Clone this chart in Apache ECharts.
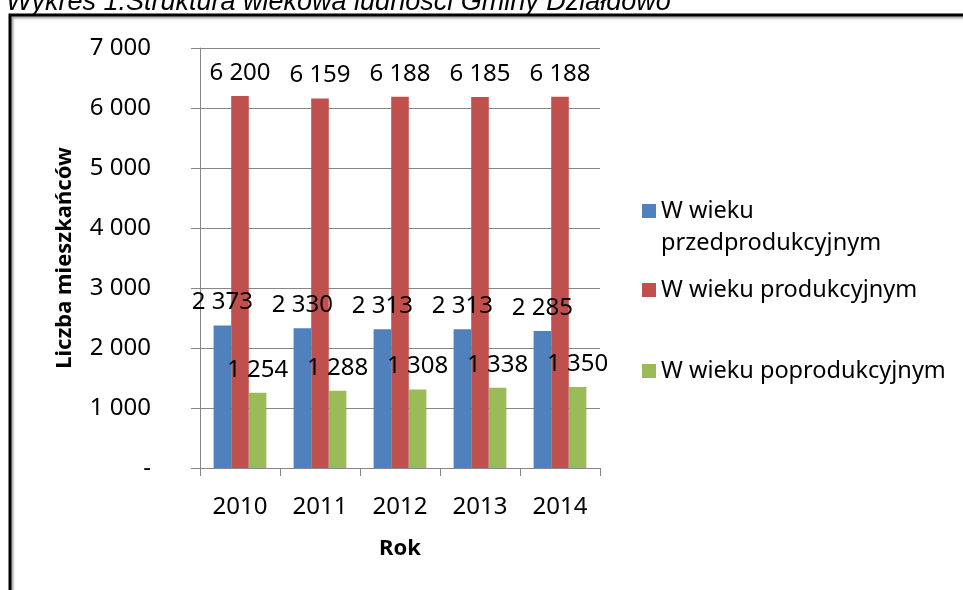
<!DOCTYPE html>
<html>
<head>
<meta charset="utf-8">
<script src="https://cdn.jsdelivr.net/npm/echarts@6/dist/echarts.min.js"></script>
<style>
  html, body { margin: 0; padding: 0; background: #fff; }
  #chart { width: 963px; height: 590px; }
</style>
</head>
<body>
<div id="chart"></div>
<script>
const years = ['2010', '2011', '2012', '2013', '2014']
const seriesNames = ['W wieku przedprodukcyjnym', 'W wieku produkcyjnym', 'W wieku poprodukcyjnym']
const przedprodukcyjny = [2373, 2330, 2313, 2313, 2285]
const produkcyjny = [6200, 6159, 6188, 6185, 6188]
const poprodukcyjny = [1254, 1288, 1308, 1338, 1350]
const colors = ['#4F81BD', '#C0504D', '#9BBB59']

const font = 'Noto Sans'

// 2373 -> "2 373", 0 -> "-"
const fmt = v => {
  if (v === 0) return '-'
  return String(v).replace(/\B(?=(\d{3})+(?!\d))/g, ' ')
}

const chart = echarts.init(document.getElementById('chart'))

const barLabel = {
  show: true,
  position: 'top',
  distance: 11,
  color: '#000',
  fontFamily: font,
  fontSize: 24,
  formatter: p => fmt(p.value)
}

const legendBase = {
  orient: 'vertical',
  left: 642,
  padding: 0,
  icon: 'rect',
  itemWidth: 14,
  itemHeight: 14,
  itemGap: 0,
  selectedMode: false,
  textStyle: { fontFamily: font, fontSize: 23.5, color: '#000', lineHeight: 32 }
}

const option = {
  animation: false,
  title: {
    text: 'Wykres 1.Struktura wiekowa ludności Gminy Działdowo',
    left: 6,
    top: -11,
    padding: 0,
    textStyle: {
      fontFamily: 'Liberation Sans',
      fontStyle: 'italic',
      fontWeight: 'normal',
      fontSize: 27,
      color: '#000'
    }
  },
  graphic: [{
    type: 'rect',
    shape: { x: 10, y: 15, width: 1200, height: 1000 },
    style: {
      fill: 'none',
      stroke: '#000',
      lineWidth: 3,
      shadowColor: 'rgba(0,0,0,0.35)',
      shadowOffsetX: 2,
      shadowOffsetY: 2,
      shadowBlur: 2
    }
  }],
  legend: [
    // empty first line keeps the marker level with "W wieku"
    Object.assign({}, legendBase, {
      top: 163,
      data: [seriesNames[0]],
      formatter: () => ' \nW wieku\nprzedprodukcyjnym'
    }),
    Object.assign({}, legendBase, { top: 274, data: [seriesNames[1]] }),
    Object.assign({}, legendBase, { top: 355, data: [seriesNames[2]] })
  ],
  grid: { left: 200, right: 363, top: 48, bottom: 122, containLabel: false },
  xAxis: {
    type: 'category',
    data: years,
    name: 'Rok',
    nameLocation: 'middle',
    nameGap: 70,
    nameTextStyle: { fontFamily: font, fontSize: 22, fontWeight: 'bold', color: '#000' },
    axisLine: { lineStyle: { color: '#868686', width: 1 } },
    axisTick: { show: true, length: 8, lineStyle: { color: '#868686' } },
    axisLabel: { color: '#000', fontFamily: font, fontSize: 24, margin: 27 }
  },
  yAxis: {
    type: 'value',
    min: 0,
    max: 7000,
    interval: 1000,
    name: 'Liczba mieszkańców',
    nameLocation: 'middle',
    nameGap: 124,
    nameRotate: 90,
    nameTextStyle: { fontFamily: font, fontSize: 22, fontWeight: 'bold', color: '#000' },
    axisLine: { show: true, lineStyle: { color: '#868686', width: 1 } },
    axisTick: { show: true, length: 9, lineStyle: { color: '#868686' } },
    axisLabel: { color: '#000', fontFamily: font, fontSize: 24, margin: 49, formatter: fmt },
    splitLine: { lineStyle: { color: '#868686', width: 1 } }
  },
  series: [
    { name: seriesNames[0], type: 'bar', data: przedprodukcyjny, itemStyle: { color: colors[0] },
      barGap: '0%', barCategoryGap: '34%', label: barLabel },
    { name: seriesNames[1], type: 'bar', data: produkcyjny, itemStyle: { color: colors[1] },
      barGap: '0%', barCategoryGap: '34%', label: barLabel },
    { name: seriesNames[2], type: 'bar', data: poprodukcyjny, itemStyle: { color: colors[2] },
      barGap: '0%', barCategoryGap: '34%', label: barLabel }
  ]
}

chart.setOption(option)
</script>
</body>
</html>
